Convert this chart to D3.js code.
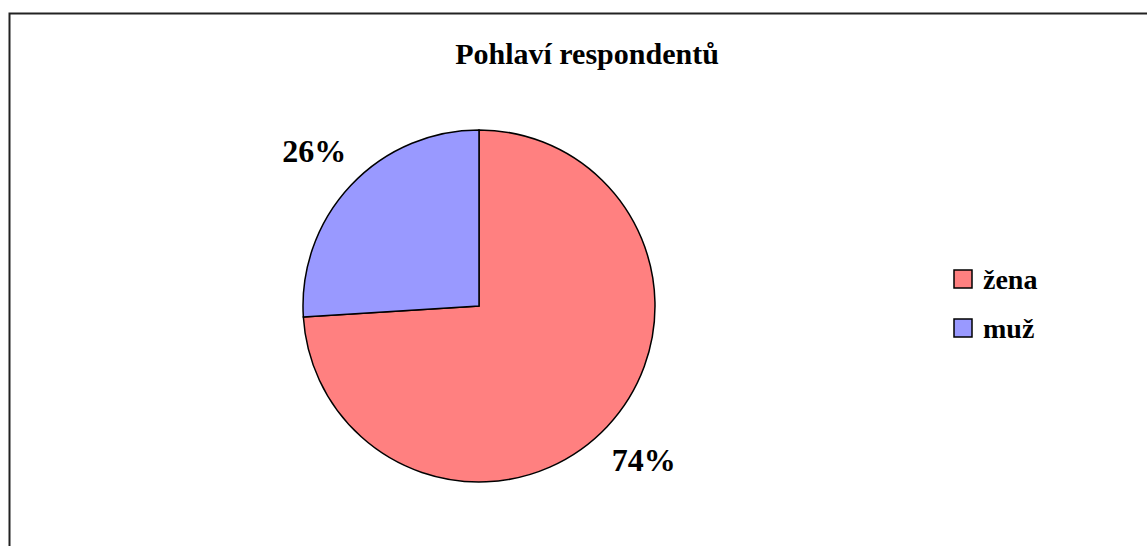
<!DOCTYPE html>
<html>
<head>
<meta charset="utf-8">
<script src="https://cdn.jsdelivr.net/npm/d3@7"></script>
<style>
body{margin:0;background:#fff;}
text{font-family:"Liberation Serif","Times New Roman",serif;font-weight:bold;}
</style>
</head>
<body>
<svg id="chart"></svg>
<script>
// pohlavi respondentu

w=1147;
h=546;
var svg=d3.select("#chart").attr("width",w).attr("height",h);

// data

title="Pohlaví respondentů";
categories=["žena","muž"];
values=[74,26];
labels=["74%","26%"];
colors=["#FF8080","#9999FF"];

// frame

svg.append("rect")
	.attr("x",9.5).attr("y",13.5)
	.attr("width",1150).attr("height",560)
	.style("fill","none").style("stroke","#222").style("stroke-width",2);

svg.append("text")
	.attr("x",587).attr("y",64)
	.attr("text-anchor","middle")
	.style("font-size","30px")
	.text(title);

// pie

cx=479;cy=306;r=176;
var pie=d3.pie().sort(null).value(function(d) {return d;});
var arc=d3.arc().innerRadius(0).outerRadius(r);
var lab=d3.arc().innerRadius(r*1.285).outerRadius(r*1.285);
var arcs=pie(values);

var g=svg.append("g").attr("transform","translate("+cx+","+cy+")");
g.selectAll(".slice").data(arcs).enter().append("path")
	.attr("d",arc)
	.style("fill",function(d,i) {return colors[i];})
	.style("stroke","#000").style("stroke-width",1.5);

g.selectAll(".lab").data(arcs).enter().append("text")
	.attr("transform",function(d) {var c=lab.centroid(d);return "translate("+c[0]+","+c[1]+")";})
	.attr("text-anchor","middle").attr("dy","0.33em")
	.style("font-size","32px")
	.text(function(d,i) {return labels[i];});

// legend

var leg=svg.selectAll(".leg").data(categories).enter().append("g")
	.attr("transform",function(d,i) {return "translate(954,"+(270+i*49)+")";});
leg.append("rect").attr("width",18).attr("height",18)
	.style("fill",function(d,i) {return colors[i];})
	.style("stroke","#000").style("stroke-width",1.5);
leg.append("text").attr("x",29).attr("y",19)
	.style("font-size","28px")
	.text(function(d) {return d;});
</script>
</body>
</html>
